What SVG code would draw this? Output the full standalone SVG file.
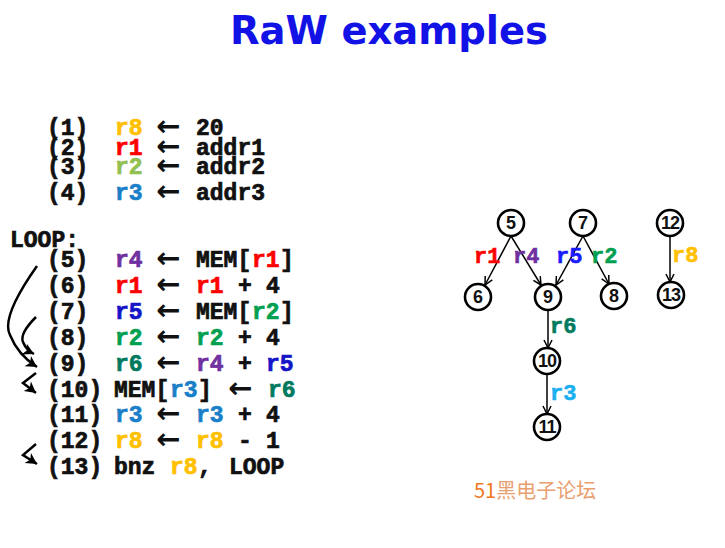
<svg xmlns="http://www.w3.org/2000/svg" width="725" height="548" viewBox="0 0 725 548">
<style>
.title{font-family:"DejaVu Sans",Verdana,sans-serif;font-weight:bold;font-size:39px;fill:#1212e6}
.c{font-family:"Liberation Mono","Courier New",monospace;font-weight:bold;font-size:23px;fill:#111;stroke:#111;stroke-width:0.7}
.ar{font-family:"DejaVu Sans",sans-serif;font-weight:bold;font-size:29px;fill:#111}
.g{font-family:"Liberation Mono","Courier New",monospace;font-weight:bold;font-size:22px;stroke-width:0.6}
.n{font-family:"Liberation Sans",Arial,sans-serif;font-weight:bold;font-size:18px;fill:#111;text-anchor:middle}
.node circle{fill:#fff;stroke:#000;stroke-width:2.6}
.edge{stroke:#000;stroke-width:1.5;fill:none;marker-end:url(#ah)}
.curve{stroke:#000;stroke-width:2.5;fill:none;marker-end:url(#ah2)}
.r8{fill:#ffc000;stroke:#ffc000}.r1{fill:#ff0000;stroke:#ff0000}.r2a{fill:#92c050;stroke:#92c050}.r2{fill:#00a050;stroke:#00a050}.r3{fill:#1a7fc8;stroke:#1a7fc8}
.r4{fill:#7030a0;stroke:#7030a0}.r5{fill:#1515c8;stroke:#1515c8}.r6{fill:#007a5e;stroke:#007a5e}.r3g{fill:#1ab0f0;stroke:#1ab0f0}.r5g{fill:#1a1aff;stroke:#1a1aff}
</style>
<defs>
<marker id="ah" markerWidth="10" markerHeight="10" refX="9" refY="5" orient="auto" markerUnits="userSpaceOnUse">
<path d="M1,1 L9,5 L1,9" fill="none" stroke="#000" stroke-width="1.5"/>
</marker>
<marker id="ah2" markerWidth="14" markerHeight="14" refX="12" refY="7" orient="auto" markerUnits="userSpaceOnUse">
<path d="M1,1 L12,7 L1,13 L4,7 z" fill="#000"/>
</marker>
</defs>

<text class="title" x="230" y="44" textLength="318" lengthAdjust="spacingAndGlyphs">RaW examples</text>

<g id="code">
<text class="c" y="135"><tspan x="47">(1)</tspan><tspan x="115" class="r8">r8</tspan></text><text class="ar" x="156" y="136">←</text><text class="c" x="196" y="135">20</text>
<text class="c" y="155"><tspan x="47">(2)</tspan><tspan x="115" class="r1">r1</tspan></text><text class="ar" x="156" y="156">←</text><text class="c" x="196" y="155">addr1</text>
<text class="c" y="174"><tspan x="47">(3)</tspan><tspan x="115" class="r2a">r2</tspan></text><text class="ar" x="156" y="175">←</text><text class="c" x="196" y="174">addr2</text>
<text class="c" y="200"><tspan x="47">(4)</tspan><tspan x="115" class="r3">r3</tspan></text><text class="ar" x="156" y="201">←</text><text class="c" x="196" y="200">addr3</text>

<text class="c" x="10" y="247">LOOP:</text>

<text class="c" y="267"><tspan x="47">(5)</tspan><tspan x="115" class="r4">r4</tspan></text><text class="ar" x="156" y="268">←</text><text class="c" y="267"><tspan x="196">MEM[</tspan><tspan x="252" class="r1">r1</tspan><tspan x="280">]</tspan></text>
<text class="c" y="293"><tspan x="47">(6)</tspan><tspan x="115" class="r1">r1</tspan></text><text class="ar" x="156" y="294">←</text><text class="c" y="293"><tspan x="196" class="r1">r1</tspan><tspan x="238">+</tspan><tspan x="266">4</tspan></text>
<text class="c" y="319"><tspan x="47">(7)</tspan><tspan x="115" class="r5">r5</tspan></text><text class="ar" x="156" y="320">←</text><text class="c" y="319"><tspan x="196">MEM[</tspan><tspan x="252" class="r2">r2</tspan><tspan x="280">]</tspan></text>
<text class="c" y="345"><tspan x="47">(8)</tspan><tspan x="115" class="r2">r2</tspan></text><text class="ar" x="156" y="346">←</text><text class="c" y="345"><tspan x="196" class="r2">r2</tspan><tspan x="238">+</tspan><tspan x="266">4</tspan></text>
<text class="c" y="371"><tspan x="47">(9)</tspan><tspan x="115" class="r6">r6</tspan></text><text class="ar" x="156" y="372">←</text><text class="c" y="371"><tspan x="196" class="r4">r4</tspan><tspan x="238">+</tspan><tspan x="266" class="r5">r5</tspan></text>
<text class="c" y="397"><tspan x="47">(10)</tspan><tspan x="114">MEM[</tspan><tspan x="170" class="r3">r3</tspan><tspan x="198">]</tspan></text><text class="ar" x="228" y="398">←</text><text class="c" x="268" y="397"><tspan class="r6">r6</tspan></text>
<text class="c" y="422"><tspan x="47">(11)</tspan><tspan x="115" class="r3">r3</tspan></text><text class="ar" x="156" y="423">←</text><text class="c" y="422"><tspan x="196" class="r3">r3</tspan><tspan x="238">+</tspan><tspan x="266">4</tspan></text>
<text class="c" y="448"><tspan x="47">(12)</tspan><tspan x="115" class="r8">r8</tspan></text><text class="ar" x="156" y="449">←</text><text class="c" y="448"><tspan x="196" class="r8">r8</tspan><tspan x="238">-</tspan><tspan x="266">1</tspan></text>
<text class="c" y="474"><tspan x="47">(13)</tspan><tspan x="114">bnz</tspan><tspan x="170" class="r8">r8</tspan><tspan x="198">,</tspan><tspan x="229">LOOP</tspan></text>
</g>

<g id="code-arrows">
<path class="curve" d="M37,266 C20,290 2,320 10,335 C16,350 26,360 37,367"/>
<path class="curve" d="M36,317 C28,325 20,335 23,342 C25,347 28,351 34,354"/>
<path class="curve" d="M36,373 L23,383 L36,393"/>
<path class="curve" d="M36,444 L23,455 L37,464"/>
</g>

<g id="connectors">
<line class="edge" x1="511" y1="236" x2="485" y2="285"/>
<line class="edge" x1="511" y1="236" x2="541" y2="285"/>
<line class="edge" x1="583" y1="236" x2="556" y2="285"/>
<line class="edge" x1="583" y1="236" x2="609" y2="284"/>
<line class="edge" x1="670" y1="236" x2="670" y2="282"/>
<line class="edge" x1="548" y1="310" x2="548" y2="348"/>
<line class="edge" x1="547" y1="374" x2="547" y2="414"/>
<text class="g r1" x="474" y="263">r1</text>
<text class="g r4" x="513" y="263">r4</text>
<text class="g r5g" x="556" y="263">r5</text>
<text class="g r2" x="591" y="263">r2</text>
<text class="g r8" x="672" y="262">r8</text>
<text class="g r6" x="550" y="333">r6</text>
<text class="g r3g" x="550" y="400">r3</text>
</g>

<g id="n5" class="node"><circle cx="511" cy="223" r="13"/><text class="n" x="511" y="229">5</text></g>
<g id="n7" class="node"><circle cx="583" cy="223" r="13"/><text class="n" x="583" y="229">7</text></g>
<g id="n12" class="node"><circle cx="670" cy="223" r="13"/><text class="n" x="670" y="229" letter-spacing="-1">12</text></g>
<g id="n6" class="node"><circle cx="478" cy="297" r="13"/><text class="n" x="478" y="303">6</text></g>
<g id="n9" class="node"><circle cx="548" cy="297" r="13"/><text class="n" x="548" y="303">9</text></g>
<g id="n8" class="node"><circle cx="614" cy="296" r="13"/><text class="n" x="614" y="302">8</text></g>
<g id="n13" class="node"><circle cx="671" cy="295" r="13"/><text class="n" x="671" y="301" letter-spacing="-1">13</text></g>
<g id="n10" class="node"><circle cx="547" cy="361" r="13"/><text class="n" x="547" y="367" letter-spacing="-1">10</text></g>
<g id="n11" class="node"><circle cx="547" cy="427" r="13"/><text class="n" x="547" y="433" letter-spacing="-1">11</text></g>

<text x="474" y="498" font-family="'Noto Sans CJK SC','Liberation Sans',sans-serif" font-size="20" fill="#e8a070"><tspan fill="#f07820">51</tspan>黑电子论坛</text>
</svg>
